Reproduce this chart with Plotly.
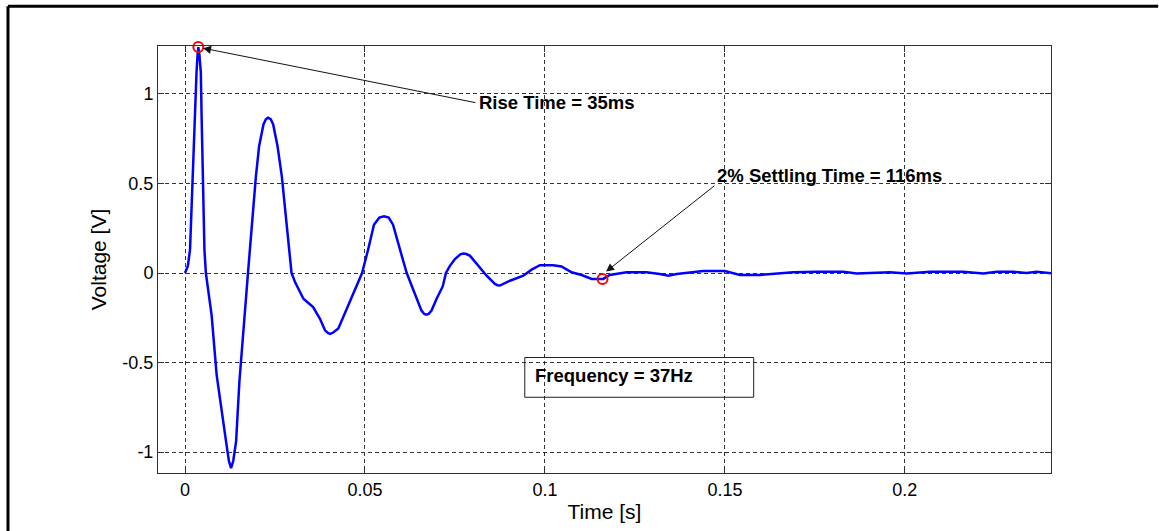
import plotly.graph_objects as go

# Measured step response of the system (time in s, voltage in V)
time_s = [
    0, 0.0008, 0.0014, 0.0021, 0.0026, 0.0032, 0.0035, 0.0037, 0.0040, 0.0044,
    0.0046, 0.0049, 0.0054, 0.0058, 0.0074, 0.0088, 0.0102, 0.0114, 0.0122, 0.0128,
    0.0134, 0.0142, 0.0151, 0.0162, 0.0171, 0.0175, 0.0197, 0.0206, 0.0218, 0.0225,
    0.0231, 0.0238, 0.0245, 0.0257, 0.0269, 0.0281, 0.0296, 0.0306, 0.0329, 0.0356,
    0.0375, 0.0389, 0.0397, 0.0403, 0.0410, 0.0426, 0.0458, 0.0481, 0.0492, 0.0509,
    0.0525, 0.0540, 0.0553, 0.0566, 0.0578, 0.0597, 0.0616, 0.0644, 0.0657, 0.0664,
    0.067, 0.0677, 0.0685, 0.0699, 0.0716, 0.0725, 0.0736, 0.075, 0.0765, 0.0773,
    0.0782, 0.0792, 0.0815, 0.0838, 0.0861, 0.0868, 0.0875, 0.0903, 0.094, 0.0963,
    0.0986, 0.1023, 0.1046, 0.1074, 0.1102, 0.113, 0.1162, 0.118, 0.1227, 0.1282,
    0.1319, 0.1343, 0.1366, 0.1403, 0.144, 0.15, 0.1542, 0.1597, 0.1625, 0.169,
    0.1755, 0.1829, 0.1866, 0.1958, 0.2005, 0.207, 0.2162, 0.2218, 0.2255, 0.2301,
    0.2338, 0.2366, 0.2406,
]
voltage_v = [
    0, 0.04, 0.13, 0.54, 0.89, 1.12, 1.22, 1.262, 1.22, 1.12,
    0.89, 0.54, 0.13, 0, -0.237, -0.57, -0.756, -0.94, -1.05, -1.09,
    -1.05, -0.94, -0.61, -0.33, -0.05, 0, 0.54, 0.71, 0.83, 0.86,
    0.867, 0.86, 0.83, 0.71, 0.54, 0.28, 0, -0.052, -0.144, -0.19,
    -0.256, -0.32, -0.335, -0.34, -0.335, -0.31, -0.163, -0.052, 0, 0.133,
    0.27, 0.31, 0.317, 0.31, 0.27, 0.133, 0, -0.144, -0.21, -0.228,
    -0.233, -0.228, -0.21, -0.144, -0.075, 0, 0.04, 0.078, 0.104, 0.109,
    0.106, 0.096, 0.04, -0.015, -0.061, -0.068, -0.07, -0.043, -0.015, 0.019,
    0.044, 0.044, 0.037, 0.004, -0.011, -0.033, -0.033, -0.011, 0.004, 0.004,
    -0.006, -0.015, -0.006, 0.004, 0.011, 0.011, -0.011, -0.011, -0.006, 0.004,
    0.007, 0.007, -0.002, 0.004, -0.002, 0.007, 0.007, -0.002, 0.007, 0.007,
    0, 0.007, -0.002,
]

# Highlighted points: first peak (rise) and 2 % settling point
marker_time_s = [0.0037, 0.116]
marker_voltage_v = [1.262, -0.033]

x_tick_vals = [0, 0.05, 0.1, 0.15, 0.2]
x_tick_text = ["0", "0.05", "0.1", "0.15", "0.2"]
y_tick_vals = [-1, -0.5, 0, 0.5, 1]
y_tick_text = ["-1", "-0.5", "0", "0.5", "1"]

rise_label = "Rise Time = 35ms"
settling_label = "2% Settling Time = 116ms"
frequency_label = "Frequency = 37Hz"

FONT = "Liberation Sans, Arial, sans-serif"
GRID = "rgba(30,30,30,0.9)"
AXIS = "#303030"

fig = go.Figure()
fig.add_trace(go.Scatter(
    x=time_s, y=voltage_v, mode="lines",
    line=dict(color="#0000ff", width=2.5),
    showlegend=False, hoverinfo="skip",
))
fig.add_trace(go.Scatter(
    x=marker_time_s, y=marker_voltage_v, mode="markers", cliponaxis=False,
    marker=dict(symbol="circle-open", size=10, color="#ff0000", line=dict(width=2)),
    showlegend=False, hoverinfo="skip",
))

# Arrows (tail given in data units) and their labels
arrow_style = dict(showarrow=True, text="", arrowhead=2, arrowsize=1.6, arrowwidth=1,
                   arrowcolor="#111111", axref="x", ayref="y", xref="x", yref="y")
fig.add_annotation(x=0.005, y=1.256, ax=0.0811, ay=0.95, **arrow_style)
fig.add_annotation(x=0.117, y=0.008, ax=0.1475, ay=0.494, **arrow_style)

label_font = dict(family=FONT, size=18.5, color="#000000")
fig.add_annotation(x=0.0812, y=0.955, text="<b>%s</b>" % rise_label, showarrow=False,
                   xanchor="left", yanchor="middle", font=label_font)
fig.add_annotation(x=0.1473, y=0.545, text="<b>%s</b>" % settling_label, showarrow=False,
                   xanchor="left", yanchor="middle", font=label_font)
fig.add_annotation(x=0.0967, y=-0.572, text="<b>%s</b>" % frequency_label, showarrow=False,
                   xanchor="left", yanchor="middle", font=label_font)
fig.add_shape(type="rect", xref="x", yref="y", x0=0.0944, x1=0.158, y0=-0.694, y1=-0.472,
              line=dict(color="#202020", width=1), fillcolor="rgba(0,0,0,0)")

# Outer figure frame: top and left edges
frame_line = dict(color="#000000", width=3)
fig.add_shape(type="line", xref="paper", yref="paper", x0=-0.168, x1=1.12, y0=1.093, y1=1.093,
              line=frame_line)
fig.add_shape(type="line", xref="paper", yref="paper", x0=-0.168, x1=-0.168, y0=-0.5, y1=1.093,
              line=frame_line)

axis_common = dict(
    showline=True, linecolor=AXIS, linewidth=1, mirror="allticks",
    ticks="inside", ticklen=6, tickcolor=AXIS, tickwidth=1,
    showgrid=True, gridcolor=GRID, gridwidth=1, griddash="4px,3px",
    zeroline=False, tickfont=dict(family=FONT, size=18, color="#000000"),
)
fig.update_xaxes(range=[-0.0075, 0.2406], tickmode="array", tickvals=x_tick_vals,
                 ticktext=x_tick_text,
                 title=dict(text="Time [s]", font=dict(family=FONT, size=21, color="#000000"),
                            standoff=5),
                 **axis_common)
fig.update_yaxes(range=[-1.117, 1.268], tickmode="array", tickvals=y_tick_vals,
                 ticktext=y_tick_text,
                 title=dict(text="Voltage [V]", font=dict(family=FONT, size=21, color="#000000"),
                            standoff=10),
                 **axis_common)

fig.update_layout(
    width=1159, height=531,
    margin=dict(l=158, r=108, t=46, b=56),
    paper_bgcolor="#ffffff", plot_bgcolor="#ffffff",
    font=dict(family=FONT, size=18, color="#000000"),
)

fig.write_html("out.html")
